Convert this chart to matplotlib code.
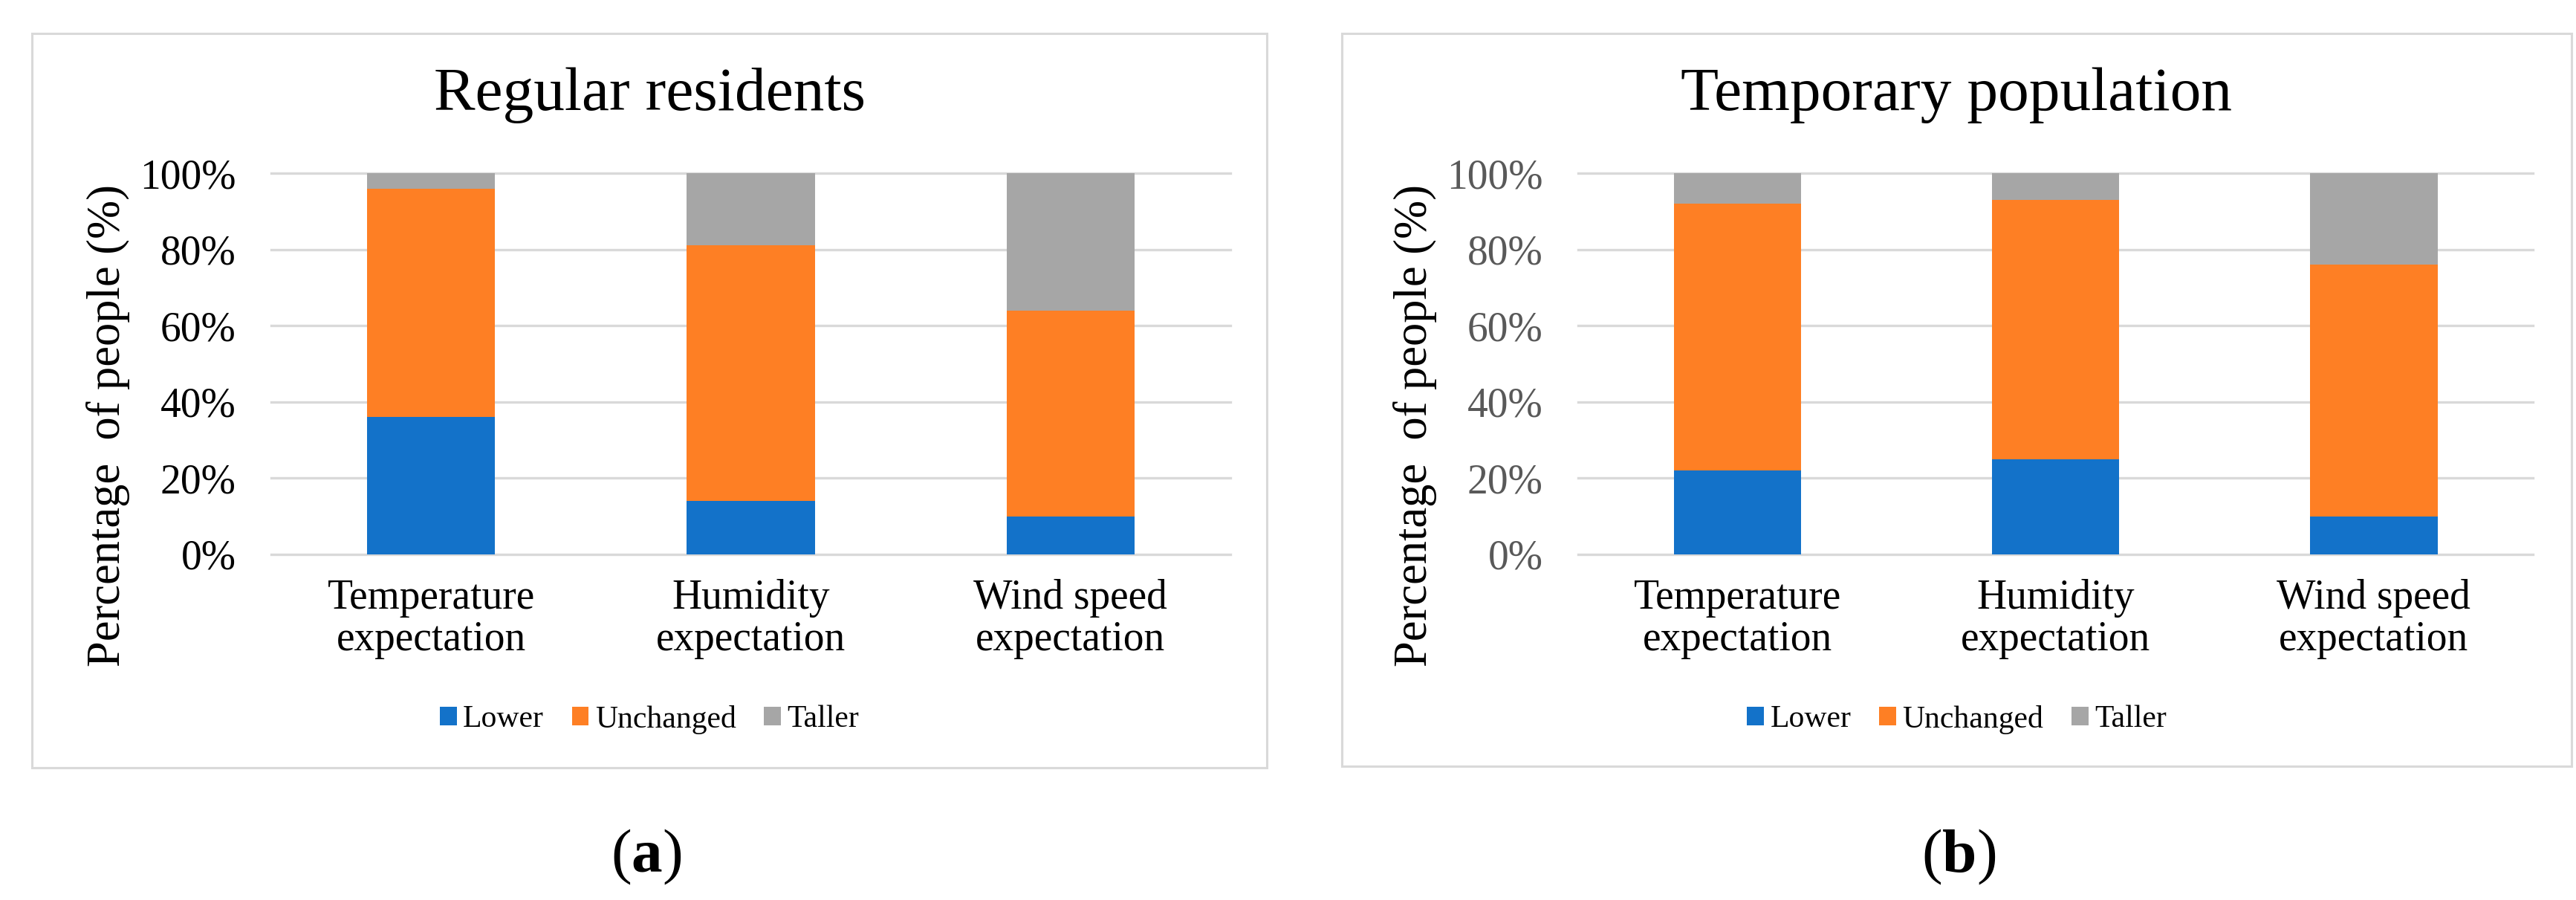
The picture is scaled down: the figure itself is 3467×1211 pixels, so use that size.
import numpy as np
import matplotlib
matplotlib.use("Agg")
import matplotlib.pyplot as plt
from matplotlib.patches import Rectangle, Patch
from matplotlib.ticker import FuncFormatter

plt.rcParams['font.family'] = ['Liberation Serif', 'DejaVu Serif']
plt.rcParams['mathtext.fontset'] = 'custom'
plt.rcParams['mathtext.rm'] = 'Liberation Serif'
plt.rcParams['mathtext.bf'] = 'Liberation Serif:bold'

# data (percent of people)
categories = ["Temperature\nexpectation", "Humidity\nexpectation", "Wind speed\nexpectation"]
series_names = ["Lower", "Unchanged", "Taller"]

res_lower = [36, 14, 10]
res_unchanged = [60, 67, 54]
res_taller = [4, 19, 36]

tmp_lower = [22, 25, 10]
tmp_unchanged = [70, 68, 66]
tmp_taller = [8, 7, 24]

y_ticks = [0, 20, 40, 60, 80, 100]

colors = ["#1372C9", "#FE7F24", "#A6A6A6"]
grid_color = "#D9D9D9"

W, H = 3467, 1211
fig = plt.figure(figsize=(W / 100, H / 100), dpi=100)


def fx(px):
    return px / W


def fy(py):
    return 1 - py / H


def panel(box, plot, title, lower, unchanged, taller, tick_color, ylab_x, caption, cap_x):
    # outer chart border
    bx0, by0, bx1, by1 = box
    fig.patches.append(Rectangle((fx(bx0), fy(by1)), fx(bx1 - bx0), (by1 - by0) / H,
                                 transform=fig.transFigure, facecolor="white",
                                 edgecolor=grid_color, linewidth=2.2, zorder=-5))
    px0, py0, px1, py1 = plot
    ax = fig.add_axes([fx(px0), fy(py1), fx(px1 - px0), (py1 - py0) / H], zorder=2)
    ax.set_facecolor("none")
    x = np.arange(len(categories))
    lo = np.array(lower)
    un = np.array(unchanged)
    ta = np.array(taller)
    w = 0.4
    ax.bar(x, lo, w, color=colors[0], zorder=3)
    ax.bar(x, un, w, bottom=lo, color=colors[1], zorder=3)
    ax.bar(x, ta, w, bottom=lo + un, color=colors[2], zorder=3)
    for t in y_ticks:
        ax.axhline(t, color=grid_color, linewidth=2.4, zorder=1, clip_on=False)
    ax.set_xlim(-0.5, len(categories) - 0.5)
    ax.set_ylim(0, 100)
    ax.set_yticks(y_ticks)
    ax.yaxis.set_major_formatter(FuncFormatter(lambda v, p: f"{v:.0f}%"))
    ax.set_xticks(x)
    ax.set_xticklabels(categories, fontsize=40, linespacing=1.1)
    ax.tick_params(axis="y", length=0, pad=34, labelsize=40, labelcolor=tick_color)
    ax.tick_params(axis="x", length=0, pad=24, labelcolor="black")
    for s in ax.spines.values():
        s.set_visible(False)

    cx = (bx0 + bx1) / 2
    fig.text(fx(cx), fy(128), title, ha="center", va="center", fontsize=60)
    fig.text(fx(ylab_x), fy(572), "Percentage  of people (%)", rotation=90,
             ha="center", va="center", fontsize=45)
    handles = [Patch(facecolor=c, edgecolor="none") for c in colors]
    fig.legend(handles, series_names, loc="center", bbox_to_anchor=(fx(cx), fy(968)),
               ncol=3, frameon=False, fontsize=30, handlelength=0.55, handleheight=0.55,
               handletextpad=0.2, columnspacing=0.9)
    fig.text(fx(cap_x), fy(1153), "($\\mathbf{" + caption + "}$)", ha="center",
             va="center", fontsize=60)
    return ax


ax1 = panel((43, 45, 1705, 1033), (365, 233, 1656, 746), "Regular residents",
            res_lower, res_unchanged, res_taller, "black", 146, "a", 870)
ax2 = panel((1806, 45, 3461, 1031), (2124, 233, 3409, 746), "Temporary population",
            tmp_lower, tmp_unchanged, tmp_taller, "#595959", 1905, "b", 2636)

fig.savefig("out.png", dpi=100, facecolor="white")
